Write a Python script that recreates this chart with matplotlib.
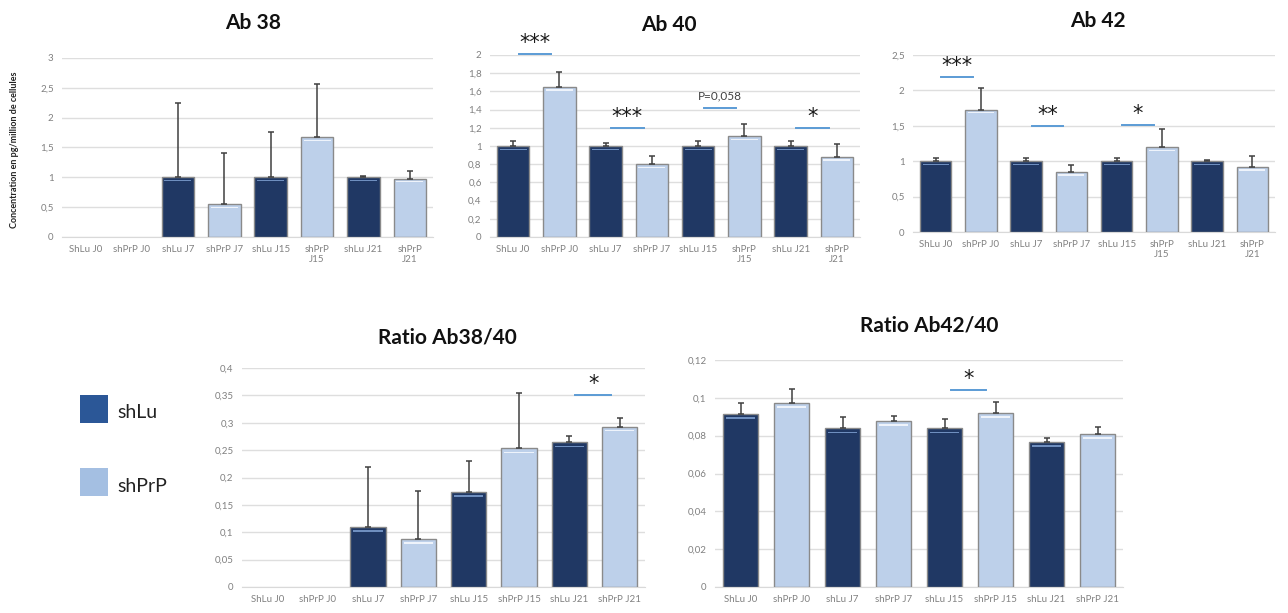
import matplotlib
matplotlib.use("Agg")
import matplotlib.pyplot as plt
import numpy as np

plt.rcParams['font.family'] = ['Lato', 'DejaVu Sans']

# ---------------- data ----------------
cats_top = ["ShLu J0", "shPrP J0", "shLu J7", "shPrP J7", "shLu J15", "shPrP\nJ15", "shLu J21", "shPrP\nJ21"]
cats_bottom = ["ShLu J0", "shPrP J0", "shLu J7", "shPrP J7", "shLu J15", "shPrP J15", "shLu J21", "shPrP J21"]
groups = ["shLu", "shPrP"] * 4

ab38 = [0, 0, 1.0, 0.55, 1.0, 1.67, 1.0, 0.98]
ab38_err = [0, 0, 1.25, 0.85, 0.76, 0.90, 0.03, 0.12]

ab40 = [1.0, 1.65, 1.0, 0.80, 1.0, 1.11, 1.0, 0.88]
ab40_err = [0.06, 0.16, 0.03, 0.09, 0.05, 0.13, 0.05, 0.14]

ab42 = [1.0, 1.73, 1.0, 0.85, 1.0, 1.20, 1.0, 0.92]
ab42_err = [0.04, 0.31, 0.04, 0.09, 0.04, 0.25, 0.02, 0.16]

r3840 = [0, 0, 0.110, 0.087, 0.173, 0.253, 0.264, 0.293]
r3840_err = [0, 0, 0.110, 0.089, 0.057, 0.102, 0.011, 0.015]

r4240 = [0.0914, 0.0974, 0.0838, 0.0879, 0.0838, 0.0921, 0.0768, 0.0808]
r4240_err = [0.0057, 0.0073, 0.0059, 0.0025, 0.0052, 0.0059, 0.0022, 0.0040]

# significance: (left bar index, line y, label)
sig_ab40 = [(0, 2.01, "***"), (2, 1.20, "***"), (4, 1.415, "P=0,058"), (6, 1.20, "*")]
sig_ab42 = [(0, 2.19, "***"), (2, 1.50, "**"), (4, 1.51, "*")]
sig_r3840 = [(6, 0.350, "*")]
sig_r4240 = [(4, 0.1041, "*")]

DARK = "#203864"
LIGHT = "#BDD0EA"
colors = {"shLu": DARK, "shPrP": LIGHT}

W, H = 1288, 613
fig = plt.figure(figsize=(W / 100, H / 100), dpi=100)


def px_axes(left, right, top, bottom):
    return fig.add_axes([left / W, 1 - bottom / H, (right - left) / W, (bottom - top) / H])


def draw(ax, vals, errs, cats, ymax, step, sigs, title, title_xy):
    x = np.arange(len(vals))
    vv = np.array(vals, dtype=float)
    ee = np.array(errs, dtype=float)
    m = vv > 0
    cols = [colors[g] for g in groups]
    ax.bar(x[m], vv[m], width=0.7, color=[c for c, k in zip(cols, m) if k],
           edgecolor="#8a8a8a", linewidth=1.0, zorder=3)
    # top highlight
    hl = ["#6f8fbf" if g == "shLu" else "#eef3fb" for g in groups]
    ax.bar(x[m], np.full(m.sum(), ymax * 0.008), bottom=vv[m] - ymax * 0.022, width=0.58,
           color=[c for c, k in zip(hl, m) if k], linewidth=0, zorder=4)
    ax.errorbar(x[m], vv[m], yerr=[np.zeros(m.sum()), ee[m]], fmt="none", ecolor="#404040",
                elinewidth=1.1, capsize=2.5, capthick=1.1, zorder=5)
    ax.set_xlim(-0.5, len(vals) - 0.5)
    ax.set_ylim(0, ymax)
    ticks = np.arange(0, ymax + step / 2, step)
    ax.set_yticks(ticks)
    ax.set_yticklabels([f"{t:g}".replace(".", ",") for t in np.round(ticks, 4)])
    ax.set_xticks(x)
    ax.set_xticklabels(cats, linespacing=1.1)
    ax.tick_params(length=0, labelsize=7, labelcolor="#808080", pad=6)
    for s in ["top", "right", "left"]:
        ax.spines[s].set_visible(False)
    ax.spines["bottom"].set_color("#d9d9d9")
    ax.yaxis.grid(True, color="#dedede", linewidth=1.0, zorder=0)
    ax.set_axisbelow(True)
    for i, y, lab in sigs:
        ax.plot([i + 0.12, i + 0.82], [y, y], color="#5B9BD5", lw=1.4, clip_on=False, zorder=6)
        if lab.startswith("P"):
            ax.text(i + 0.47, y + ymax * 0.035, lab, ha="center", va="bottom", fontsize=8.5,
                    color="#404040")
        else:
            ax.text(i + 0.47, y + ymax * 0.005, lab, ha="center", va="bottom", fontsize=15,
                    color="#1a1a1a", family="DejaVu Sans")
    fig.text(title_xy[0] / W, 1 - title_xy[1] / H, title, ha="center", va="center",
             fontsize=15, fontweight="bold", color="#111111")


ax1 = px_axes(62, 433, 58, 237)
draw(ax1, ab38, ab38_err, cats_top, 3, 0.5, [], "Ab 38", (253, 23))
fig.text(15 / W, 1 - 150 / H, "Concentration en pg/million de cellules", rotation=90,
         ha="center", va="center", fontsize=6.5, fontweight="bold", color="#222222")

ax2 = px_axes(490, 860, 55, 237)
draw(ax2, ab40, ab40_err, cats_top, 2, 0.2, sig_ab40, "Ab 40", (669, 25))

ax3 = px_axes(913, 1275, 55, 232)
draw(ax3, ab42, ab42_err, cats_top, 2.5, 0.5, sig_ab42, "Ab 42", (1098, 21))

ax4 = px_axes(242, 645, 368, 587)
draw(ax4, r3840, r3840_err, cats_bottom, 0.4, 0.05, sig_r3840, "Ratio Ab38/40", (447, 337))

ax5 = px_axes(715, 1123, 360, 587)
draw(ax5, r4240, r4240_err, cats_bottom, 0.12, 0.02, sig_r4240, "Ratio Ab42/40", (929, 325))

# legend
leg_colors = {"shLu": "#2B5797", "shPrP": "#A4BFE2"}
for lab, yc in [("shLu", 409), ("shPrP", 482)]:
    fig.patches.append(plt.Rectangle((80 / W, 1 - (yc + 14) / H), 28 / W, 28 / H,
                                     transform=fig.transFigure, facecolor=leg_colors[lab],
                                     edgecolor="none"))
    fig.text(117 / W, 1 - (yc + 4) / H, lab, ha="left", va="center", fontsize=14, color="#222222")

fig.savefig("out.png", dpi=100)
